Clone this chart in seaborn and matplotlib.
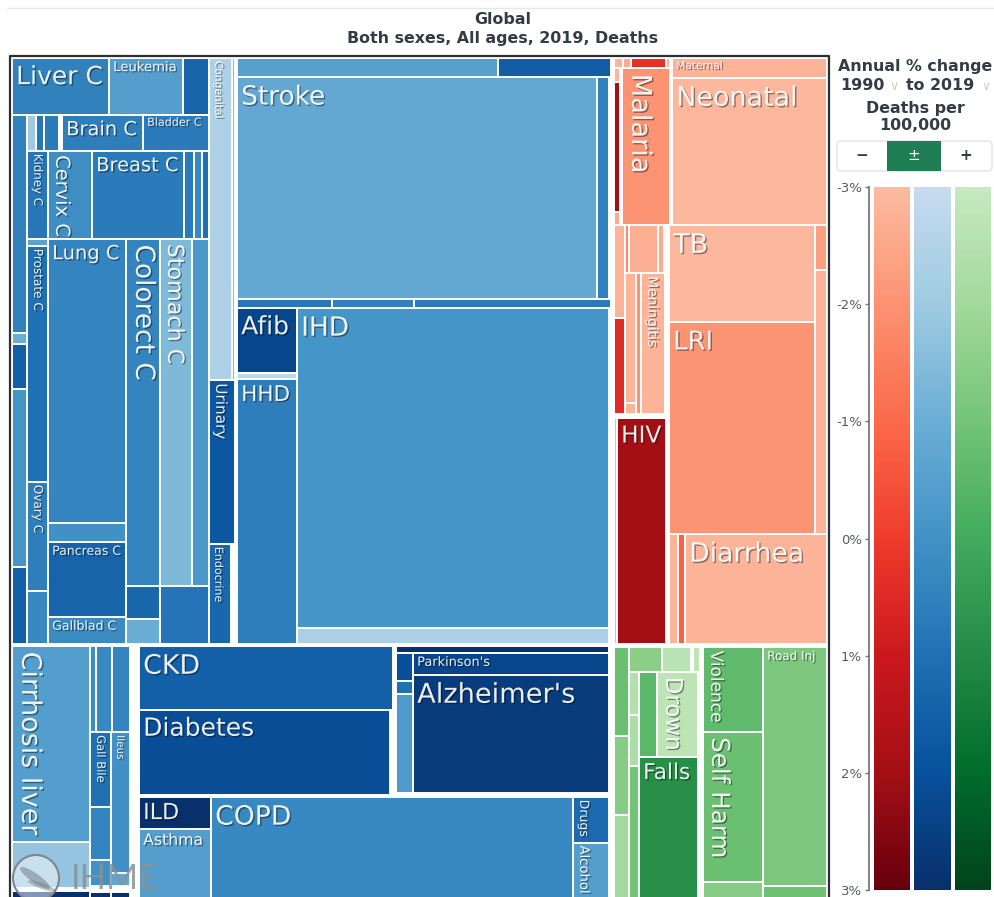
import numpy as np
import matplotlib
matplotlib.use("Agg")
import matplotlib.pyplot as plt
import matplotlib.patheffects as pe
from matplotlib.colors import ListedColormap
from matplotlib.patches import Rectangle, Circle, Ellipse, FancyBboxPatch
import seaborn as sns

# --- Values ---
# Leaves are (cause, share of deaths, annual % change). No change value = empty gap.
LIVER_ROW = [("Liver C", 97, 0.5), ("Leukemia", 74, -0.4), ("", 26, 1.4)]
NEO_LEFT = [("", 218, 0.5), ("", 11, -1.0), ("", 45, 1.5), ("", 178, -0.1), ("", 77, 1.5)]
BRAIN_ROW = [("", 9, -2.0), ("", 8, 0.8), ("", 15, 0.7), ("", 3, None), ("Brain C", 81, 0.6), ("Bladder C", 66, 0.7)]
BREAST_ROW = [("Kidney C", 21, 0.8), ("Cervix C", 44, 0.1), ("Breast C", 92, 0.7), ("", 10, 0.7), ("", 8, 0.3), ("", 7, 1.0)]
PROSTATE_COL = [("", 7, -0.6), ("Prostate C", 236, 1.0), ("Ovary C", 109, 0.6), ("", 53, 0.3)]
LUNG_COL = [("Lung C", 284, 0.4), ("", 19, 0.0), ("Pancreas C", 75, 1.4), ("Gallblad C", 27, 0.2)]
COLORECT_ROW = [("Colorect C", 34, 0.4), ("Stomach C", 32, -1.4), ("", 17, -0.2)]
SMALL_C_COL = [("", 33, 1.3), ("", 25, -1.0)]
SMALL_C_LAST = [("", 49, 0.9)]
CONGENITAL_ROW = [("Congenital", 23, -2.4), ("", 3, -1.5), ("", 2, None)]
URINARY_ROW = [("Urinary", 26, 1.8), ("", 2, None)]
ENDOCRINE_ROW = [("Endocrine", 22, 1.3), ("", 6, None)]
STROKE_TOP = [("", 261, -0.5), ("", 113, 1.6)]
STROKE_MID = [("Stroke", 360, -0.8), ("", 12, 0.5), ("", 2, None)]
STROKE_LOW = [("", 95, 0.8), ("", 82, 0.5), ("", 197, 0.7)]
AFIB_COL = [("Afib", 65, 2.3), ("", 6, -2.8), ("HHD", 265, 0.6)]
IHD_COL = [("IHD", 320, -0.1), ("", 16, -2.3)]
CIRRHOSIS_COL = [("Cirrhosis liver", 197, -0.4), ("", 47, -1.8), ("", 3, None), ("", 39, 3.0)]
DIGEST_TOP = [("", 6, 0.1), ("", 16, 0.3), ("", 18, 0.4)]
GALL_COL = [("Gall Bile", 75, 1.0), ("", 54, 0.4), ("", 26, 0.0), ("", 6, None), ("", 38, 3.0)]
ILEUS_COL = [("Ileus", 142, 0.0), ("", 13, -0.7), ("", 6, None), ("", 38, 3.0)]
CKD_COL = [("CKD", 254, 1.5), ("", 1, None)]
DIABETES_ROW = [("Diabetes", 251, 2.1), ("", 4, None)]
NEURO_TOP = [("", 213, 3.0), ("", 2, None)]
NEURO_SMALL = [("", 28, 2.0), ("", 13, 1.0), ("", 100, -0.3), ("", 2, None)]
NEURO_MAIN = [("Parkinson's", 22, 2.3), ("Alzheimer's", 119, 2.6), ("", 2, None)]
ILD_COL = [("ILD", 32, 3.0), ("Asthma", 101, -0.4)]
COPD_ROW = [("COPD", 362, 0.3)]
DRUGS_COL = [("Drugs", 46, 1.2), ("Alcohol", 88, -0.4)]

MATERNAL_TOP = [("", 9, -2.8), ("", 8, -2.6), ("", 35, 0.3), ("", 4, -2.8), ("", 2, None)]
MALARIA_SIDE = [("", 14, -2.8), ("", 130, 2.0), ("", 13, -2.6)]
NEONATAL_COL = [("Maternal", 20, -2.8), ("Neonatal", 147, -2.9)]
RED_SIDE = [("", 93, -2.8), ("", 96, 0.4), ("", 4, None)]
RED_TOP_CELLS = [("", 4, -1.8), ("", 29, -2.7), ("", 6, -2.6), ("", 2, None)]
RED_SMALL = [("", 130, -2.8), ("", 11, -2.8)]
HIV_ROW = [("", 3, -2.8), ("HIV", 49, 2.0), ("", 3, None)]
TB_COL = [("TB", 97, -2.9), ("LRI", 212, -2.0)]
TB_SIDE = [("", 45, -2.3), ("", 264, -2.8)]
DIARRHEA_ROW = [("", 9, -2.8), ("", 7, -0.8), ("Diarrhea", 142, -2.8)]

GREEN_A = [("", 89, -0.8), ("", 79, -1.4), ("", 115, -2.0)]
GREEN_TOP = [("", 33, -1.5), ("", 29, -2.6), ("", 2, None), ("", 7, -2.7)]
GREEN_B = [("", 43, -2.4), ("", 51, -2.3), ("", 164, -1.0)]
DROWN_ROW = [("", 18, -0.5), ("Drown", 41, -2.7), ("", 2, None)]
FALLS_ROW = [("Falls", 59, 0.9), ("", 2, None)]
SELF_HARM_COL = [("Violence", 85, -0.6), ("Self Harm", 150, -0.8), ("", 48, -1.4)]
ROAD_COL = [("Road Inj", 239, -1.2), ("", 44, -0.9)]

TICK_VALUES = [-3, -2, -1, 0, 1, 2, 3]
TICK_LABELS = ["-3%", "-2%", "-1%", "0%", "1%", "2%", "3%"]

# --- Styling, kept apart from the values ---
LABEL_SIZES = {
    "Liver C": 18, "Leukemia": 9.5, "Brain C": 14, "Bladder C": 8, "Kidney C": 8.5, "Cervix C": 14,
    "Breast C": 14, "Prostate C": 8.7, "Ovary C": 8.7, "Lung C": 14, "Pancreas C": 9, "Gallblad C": 9,
    "Colorect C": 19, "Stomach C": 16, "Congenital": 7.7, "Urinary": 11, "Endocrine": 8, "Stroke": 19,
    "Afib": 18, "HHD": 15.5, "IHD": 19, "Cirrhosis liver": 19.4, "Gall Bile": 8.3, "Ileus": 7.5,
    "CKD": 19.3, "Diabetes": 18, "Parkinson's": 9.3, "Alzheimer's": 19.6, "ILD": 16, "Asthma": 11.3,
    "COPD": 19.2, "Drugs": 9, "Alcohol": 9.5, "Maternal": 7.6, "Malaria": 19.6, "Neonatal": 19.4,
    "Meningitis": 10, "HIV": 16.7, "TB": 19.4, "LRI": 18.6, "Diarrhea": 19.2, "Drown": 16.5,
    "Falls": 15.6, "Violence": 12.2, "Self Harm": 17.7, "Road Inj": 8.6,
}
VERTICAL_LABELS = {"Kidney C", "Cervix C", "Prostate C", "Ovary C", "Colorect C", "Stomach C", "Congenital",
                   "Urinary", "Endocrine", "Cirrhosis liver", "Gall Bile", "Ileus", "Drugs", "Alcohol",
                   "Malaria", "Meningitis", "Drown", "Violence", "Self Harm"}
FW, FH = 994, 897
TEXT_DARK = "#333c44"


def row(weight, *kids):
    return {"dir": "row", "w": weight, "kids": kids}


def col(weight, *kids):
    return {"dir": "col", "w": weight, "kids": kids}


def weight_of(node):
    return node["w"] if isinstance(node, dict) else node[1]


BLUE_TREE = col(599,
    row(586,
        col(197,
            row(57, *LIVER_ROW),
            row(529,
                col(15, *NEO_LEFT),
                col(182,
                    row(36, *BRAIN_ROW),
                    row(88, *BREAST_ROW),
                    row(405,
                        col(21, *PROSTATE_COL),
                        col(78, *LUNG_COL),
                        col(83,
                            row(347, *COLORECT_ROW),
                            row(58, col(34, *SMALL_C_COL), *SMALL_C_LAST))))),
        ),
        col(28, row(322, *CONGENITAL_ROW), row(164, *URINARY_ROW), row(100, *ENDOCRINE_ROW)),
        col(374,
            row(19, *STROKE_TOP),
            row(222, *STROKE_MID),
            row(9, *STROKE_LOW),
            row(336, col(60, *AFIB_COL), col(312, *IHD_COL), ("", 2, None)))),
    ("", 2, None),
    row(284,
        row(118,
            col(78, *CIRRHOSIS_COL),
            col(40, row(87, *DIGEST_TOP), row(199, col(21, *GALL_COL), col(19, *ILEUS_COL)))),
        ("", 9, None),
        col(472,
            row(150,
                col(255, row(64, *CKD_COL), row(86, *DIABETES_ROW)),
                ("", 2, None),
                col(215, row(7, *NEURO_TOP), row(143, col(17, *NEURO_SMALL), col(196, *NEURO_MAIN), ("", 2, None)))),
            ("", 2, None),
            row(134, col(72, *ILD_COL), *COPD_ROW, col(36, *DRUGS_COL), ("", 2, None)))))

RED_TREE = col(586,
    row(167,
        col(58,
            row(10, *MATERNAL_TOP),
            row(157, col(6, *MALARIA_SIDE), ("", 2, None), ("Malaria", 48, -2.0), ("", 2, None))),
        col(155, *NEONATAL_COL)),
    row(419,
        col(55,
            row(193,
                col(11, *RED_SIDE),
                col(41,
                    row(48, *RED_TOP_CELLS),
                    col(145,
                        row(141, col(11, *RED_SMALL), ("", 5, -2.0), ("Meningitis", 24, -2.8), ("", 1, None)),
                        ("", 4, None))),
                ("", 3, None)),
            row(226, *HIV_ROW)),
        col(158,
            row(309, col(146, *TB_COL), col(12, *TB_SIDE)),
            row(110, *DIARRHEA_ROW))))

GREEN_TREE = col(286,
    ("", 3, None),
    row(283,
        col(15, *GREEN_A),
        col(71,
            row(25, *GREEN_TOP),
            row(258,
                col(10, *GREEN_B),
                col(61, row(85, *DROWN_ROW), row(173, *FALLS_ROW)))),
        ("", 3, None),
        col(60, *SELF_HARM_COL),
        col(64, *ROAD_COL)))

sns.set_theme(style="white", rc={"font.family": "DejaVu Sans"})


def family_cmap(name):
    # The scale starts at the pale end of each seaborn palette
    base = sns.color_palette(name, as_cmap=True)
    return ListedColormap(base(np.linspace(0.25, 1, 256)))


CMAPS = {"Blues": family_cmap("Blues"), "Reds": family_cmap("Reds"), "Greens": family_cmap("Greens")}
SHADOW = [pe.withSimplePatchShadow(offset=(1, -1), shadow_rgbFace="#000000", alpha=0.4)]


def draw_leaf(ax, leaf, x0, y0, x1, y1, cmap):
    label, _, change = leaf
    if change is None:
        return
    ax.add_patch(Rectangle((x0, y0), x1 - x0, y1 - y0, facecolor=cmap((change + 3) / 6),
                           edgecolor="white", linewidth=1.4))
    if label:
        size = LABEL_SIZES[label]
        vertical = label in VERTICAL_LABELS
        # Big labels sit a little lower in their cell
        drop = 2 + max(size - 9, 0) * (0.2 if vertical else 0.35)
        ax.annotate(label, (x0, y0), xytext=(3, -drop), textcoords="offset points",
                    rotation=270 if vertical else 0, ha="left", va="top",
                    color="white", alpha=0.92, fontsize=size,
                    path_effects=SHADOW, annotation_clip=False)


def draw_tree(ax, node, x0, y0, x1, y1, cmap):
    if not isinstance(node, dict):
        draw_leaf(ax, node, x0, y0, x1, y1, cmap)
        return
    total = sum(weight_of(k) for k in node["kids"])
    pos = x0 if node["dir"] == "row" else y0
    span = (x1 - x0) if node["dir"] == "row" else (y1 - y0)
    for kid in node["kids"]:
        step = span * weight_of(kid) / total
        if node["dir"] == "row":
            draw_tree(ax, kid, pos, y0, pos + step, y1, cmap)
        else:
            draw_tree(ax, kid, x0, pos, x1, pos + step, cmap)
        pos += step


def px_axes(fig, left, top, right, bottom):
    return fig.add_axes([left / FW, 1 - bottom / FH, (right - left) / FW, (bottom - top) / FH])


fig = plt.figure(figsize=(FW / 100, FH / 100), dpi=100)

# --- Treemap ---
ax = px_axes(fig, 12, 58, 827, 897)
ax.set_xlim(0, 815)
ax.set_ylim(839, 0)
ax.axis("off")
draw_tree(ax, BLUE_TREE, 0, 0, 599, 872, CMAPS["Blues"])
draw_tree(ax, RED_TREE, 602, 0, 815, 586, CMAPS["Reds"])
draw_tree(ax, GREEN_TREE, 602, 586, 815, 872, CMAPS["Greens"])

# --- Page furniture in pixel coordinates ---
page = fig.add_axes([0, 0, 1, 1], zorder=5)
page.set_xlim(0, FW)
page.set_ylim(FH, 0)
page.axis("off")
page.patch.set_alpha(0)
page.plot([7, 994], [8, 8], color="#e6e6e6", lw=1)
page.plot([9.5, 9.5, 829, 829], [900, 56, 56, 900], color="#2b2f33", lw=1.6)

page.text(503, 20, "Global", ha="center", va="center", fontsize=11.4, fontweight="bold", color=TEXT_DARK)
page.text(503, 38, "Both sexes, All ages, 2019, Deaths", ha="center", va="center",
          fontsize=11.4, fontweight="bold", color=TEXT_DARK)

# IHME logo
page.add_patch(Circle((36, 878), 23, facecolor=(1, 1, 1, 0.5), edgecolor="#7f878d", lw=1.5))
page.add_patch(Ellipse((35, 878), 36, 9, angle=35, facecolor=(0.45, 0.5, 0.55, 0.55), edgecolor="none"))
page.add_patch(Ellipse((42, 886), 30, 6, angle=20, facecolor=(0.45, 0.5, 0.55, 0.45), edgecolor="none"))
page.text(71, 879, "IHME", ha="left", va="center", fontsize=25, family="Lato",
          color="#8b9296", alpha=0.85)

# Legend heading
page.text(915, 66, "Annual % change", ha="center", va="center", fontsize=11.4, fontweight="bold", color=TEXT_DARK)
page.text(862, 86, "1990", ha="center", va="center", fontsize=11.4, fontweight="bold", color=TEXT_DARK)
page.text(894, 87, "\u2228", ha="center", va="center", fontsize=9, color="#c9cdd0")
page.text(940, 86, "to 2019", ha="center", va="center", fontsize=11.4, fontweight="bold", color=TEXT_DARK)
page.text(986, 87, "\u2228", ha="center", va="center", fontsize=9, color="#c9cdd0")
page.text(915, 108, "Deaths per", ha="center", va="center", fontsize=11.4, fontweight="bold", color=TEXT_DARK)
page.text(915, 126, "100,000", ha="center", va="center", fontsize=11.4, fontweight="bold", color=TEXT_DARK)

# -/+/± buttons
page.add_patch(FancyBboxPatch((837, 141), 155, 30, boxstyle="round,pad=0,rounding_size=4",
                              facecolor="white", edgecolor="#e3e5e7", lw=1))
page.add_patch(Rectangle((887, 141), 54, 30, facecolor="#1f7d54", edgecolor="none"))
page.text(862, 155, "\u2212", ha="center", va="center", fontsize=11, fontweight="bold", color=TEXT_DARK)
page.text(914, 155, "\u00b1", ha="center", va="center", fontsize=11, color="white")
page.text(966, 155, "+", ha="center", va="center", fontsize=11, fontweight="bold", color=TEXT_DARK)

# --- Colour scale ---
gradient = np.linspace(-3, 3, 256).reshape(-1, 1)
for (left, right), name in zip([(874, 910), (914, 951), (955, 991)], ["Reds", "Blues", "Greens"]):
    bar_ax = px_axes(fig, left, 187, right, 890)
    sns.heatmap(gradient, cmap=CMAPS[name], vmin=-3, vmax=3, cbar=False,
                xticklabels=False, yticklabels=False, ax=bar_ax)
    bar_ax.tick_params(length=0)

scale_ax = px_axes(fig, 869, 187, 870, 890)
scale_ax.set_ylim(3, -3)
scale_ax.set_xticks([])
scale_ax.set_yticks(TICK_VALUES)
scale_ax.set_yticklabels(TICK_LABELS, fontsize=9.5, color="#555b60")
scale_ax.tick_params(axis="y", length=3, width=1, color="#6f7478", pad=2, left=True)
for side in ["top", "right", "bottom"]:
    scale_ax.spines[side].set_visible(False)
scale_ax.spines["left"].set_color("#6f7478")
scale_ax.patch.set_alpha(0)

fig.savefig("out.png", dpi=100)
plt.close(fig)
